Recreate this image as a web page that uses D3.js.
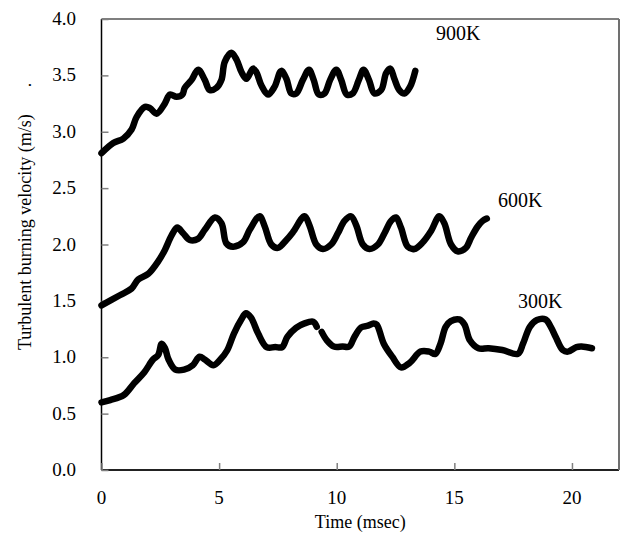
<!DOCTYPE html>
<html>
<head>
<meta charset="utf-8">
<script src="https://cdn.jsdelivr.net/npm/d3@7"></script>
<style>
  body { margin: 0; background: #fff; }
  svg text { font-family: "Liberation Serif", "Times New Roman", serif; fill: #000; }
</style>
</head>
<body>
<div id="chart"></div>
<script>
// Datos (tiempo en ms, velocidad en m/s)
const t900 = [0,0.5,0.93,1.28,1.49,1.85,2.06,2.34,2.69,2.91,3.19,3.44,3.54,3.83,4.11,4.39,4.60,4.89,5.10,5.24,5.52,5.74,5.95,6.16,6.44,6.58,6.80,7.08,7.36,7.64,7.86,8.07,8.28,8.56,8.82,9.02,9.24,9.48,9.72,9.98,10.19,10.43,10.68,10.94,11.14,11.37,11.60,11.89,12.10,12.28,12.45,12.66,12.88,13.12,13.34];
const v900 = [2.81,2.90,2.94,3.02,3.13,3.22,3.21,3.16,3.25,3.33,3.31,3.33,3.39,3.46,3.55,3.46,3.37,3.39,3.46,3.62,3.70,3.64,3.53,3.47,3.56,3.53,3.41,3.33,3.40,3.54,3.47,3.34,3.34,3.46,3.55,3.46,3.33,3.34,3.46,3.55,3.46,3.33,3.34,3.46,3.55,3.46,3.34,3.37,3.52,3.56,3.47,3.37,3.34,3.40,3.54];

const t600 = [0,0.78,1.28,1.56,1.99,2.41,2.69,2.98,3.22,3.47,3.75,4.10,4.39,4.82,5.10,5.31,5.59,6.02,6.30,6.72,6.94,7.22,7.50,7.86,8.14,8.63,8.84,9.13,9.41,9.76,10.05,10.33,10.61,10.83,11.11,11.39,11.75,12.03,12.31,12.52,12.73,13.02,13.30,13.66,14.01,14.36,14.57,14.86,15.14,15.49,15.71,15.99,16.21,16.38];
const v600 = [1.46,1.55,1.61,1.69,1.74,1.85,1.95,2.08,2.15,2.10,2.04,2.05,2.13,2.24,2.19,2.01,1.98,2.02,2.13,2.25,2.16,2.00,1.97,2.04,2.11,2.25,2.17,2.00,1.96,2.00,2.10,2.21,2.25,2.17,2.00,1.96,2.00,2.10,2.21,2.24,2.15,1.98,1.96,2.02,2.12,2.25,2.19,2.00,1.94,1.97,2.06,2.16,2.21,2.23];

// null = hueco en la curva
const t300 = [0,0.37,0.95,1.39,1.83,2.19,2.41,2.56,2.70,2.85,3.14,3.51,3.88,4.17,4.39,4.76,5.05,5.34,5.63,5.93,6.14,6.36,6.66,7.02,7.39,7.68,7.90,8.27,8.63,9.0,9.15,9.25,9.36,9.58,9.88,10.25,10.53,10.75,11.04,11.33,11.56,11.70,12.0,12.36,12.73,13.10,13.56,13.93,14.19,14.41,14.63,14.85,15.21,15.43,15.66,16.02,16.46,17.04,17.70,17.92,18.21,18.51,18.88,19.10,19.31,19.61,19.83,20.19,20.41,20.85];
const v300 = [0.60,0.62,0.665,0.77,0.87,0.98,1.02,1.12,1.08,0.98,0.89,0.89,0.93,1.005,0.98,0.93,0.98,1.06,1.21,1.33,1.39,1.35,1.21,1.09,1.09,1.09,1.18,1.26,1.30,1.315,1.27,null,1.225,1.15,1.095,1.095,1.095,1.18,1.265,1.28,1.30,1.29,1.12,1.005,0.91,0.95,1.05,1.05,1.03,1.12,1.27,1.32,1.335,1.29,1.15,1.08,1.08,1.064,1.03,1.12,1.27,1.33,1.335,1.27,1.18,1.064,1.05,1.09,1.095,1.08];

const seriesNames = ['900K', '600K', '300K'];
const xTicks = [0, 5, 10, 15, 20];
const yTicks = [0, 0.5, 1, 1.5, 2, 2.5, 3, 3.5, 4];

const W = 625, H = 537;
const plotL = 101.5, plotR = 619, plotT = 19, plotB = 470;

const x = d3.scaleLinear().domain([0, 22]).range([plotL, plotR]);
const y = d3.scaleLinear().domain([0, 4]).range([plotB, plotT]);

const svg = d3.select('#chart').append('svg')
    .attr('width', W).attr('height', H);

// marco: arriba/izq negro, abajo oscuro, derecha gris
const frame = [
    [plotL, plotT, plotR, plotT, '#000', 1.2],
    [plotL, plotT, plotL, plotB, '#000', 1.5],
    [plotL, plotB, plotR, plotB, '#222', 2],
    [plotR, plotT, plotR, plotB, '#707070', 2]
];
frame.forEach(f => {
    svg.append('line')
        .attr('x1', f[0]).attr('y1', f[1]).attr('x2', f[2]).attr('y2', f[3])
        .attr('stroke', f[4]).attr('stroke-width', f[5]);
});

// ticks hacia dentro
const yAxis = svg.append('g')
    .attr('transform', `translate(${plotL},0)`)
    .call(d3.axisRight(y).tickValues(yTicks).tickSize(7).tickFormat(''));
const xAxis = svg.append('g')
    .attr('transform', `translate(0,${plotB})`)
    .call(d3.axisTop(x).tickValues(xTicks).tickSize(7).tickFormat(''));
[yAxis, xAxis].forEach(a => {
    a.select('.domain').remove();
    a.selectAll('line').attr('stroke', '#808080').attr('stroke-width', 1.5);
});

svg.selectAll('text.ylab').data(yTicks).join('text')
    .attr('class', 'ylab')
    .attr('x', 76).attr('y', d => y(d) + 6)
    .attr('text-anchor', 'end')
    .style('font-size', '19px')
    .text(d => d.toFixed(1));

svg.selectAll('text.xlab').data(xTicks).join('text')
    .attr('class', 'xlab')
    .attr('x', d => x(d)).attr('y', 504)
    .attr('text-anchor', 'middle')
    .style('font-size', '19px')
    .text(d => d);

svg.append('text')
    .attr('x', (plotL + plotR) / 2).attr('y', 528)
    .attr('text-anchor', 'middle')
    .style('font-size', '18px')
    .text('Time (msec)');

svg.append('text')
    .attr('transform', 'translate(31,350) rotate(-90)')
    .attr('text-anchor', 'start')
    .style('font-size', '18px')
    .style('white-space', 'pre')
    .text('Turbulent burning velocity (m/s)      .');

// curvas
const line = d3.line()
    .defined(d => d[1] != null)
    .x(d => x(d[0])).y(d => y(d[1]))
    .curve(d3.curveCatmullRom.alpha(0.5));

const curves = [
    { name: seriesNames[0], pts: t900.map((t, i) => [t, v900[i]]), lx: 436, ly: 40 },
    { name: seriesNames[1], pts: t600.map((t, i) => [t, v600[i]]), lx: 498, ly: 207 },
    { name: seriesNames[2], pts: t300.map((t, i) => [t, v300[i]]), lx: 518, ly: 308 }
];

curves.forEach(c => {
    svg.append('path')
        .attr('d', line(c.pts))
        .attr('fill', 'none')
        .attr('stroke', '#000')
        .attr('stroke-width', 6.5)
        .attr('stroke-linejoin', 'round')
        .attr('stroke-linecap', 'round');

    svg.append('text')
        .attr('x', c.lx).attr('y', c.ly)
        .style('font-size', '20px')
        .text(c.name);
});
</script>
</body>
</html>
